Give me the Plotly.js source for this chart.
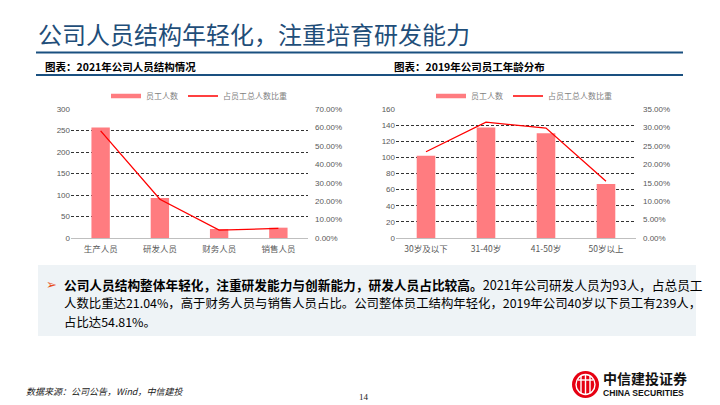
<!DOCTYPE html>
<html>
<head>
<meta charset="utf-8">
<script src="https://cdn.plot.ly/plotly-3.0.1.min.js"></script>
<style>
html,body{margin:0;padding:0;background:#fff;}
#chart{width:720px;height:405px;}
</style>
</head>
<body>
<div id="chart"></div>
<script>
// ---- data ----
const cats1 = ["生产人员", "研发人员", "财务人员", "销售人员"];
const staff1 = [257, 93, 21, 24];
const share1 = [0.5814, 0.2104, 0.0430, 0.0520];

const cats2 = ["30岁及以下", "31-40岁", "41-50岁", "50岁以上"];
const staff2 = [102, 137, 130, 67];
const share2 = [0.2339, 0.3142, 0.2982, 0.1537];

const legendBar = "员工人数";
const legendLine = "占员工总人数比重";

const W = 720, H = 405;
const px = x => x / W;
const py = y => 1 - y / H;

const barColor = "#FF7C80";
const lineColor = "#FF0000";
const tickFont = {family: "Liberation Sans, Arial, sans-serif", size: 8, color: "#595959"};
const cjk = "Noto Sans CJK SC, sans-serif";

function chartTraces(cats, staff, share, xa, ya, ya2, lg) {
  return [
    {type: "bar", x: cats, y: staff, name: legendBar, marker: {color: barColor}, width: 0.31,
     xaxis: xa, yaxis: ya, showlegend: false, hoverinfo: "skip"},
    // legend key drawn as a thick short bar (like the reference legend)
    {type: "scatter", mode: "lines", x: [null], y: [null], name: legendBar,
     line: {color: barColor, width: 4.5}, xaxis: xa, yaxis: ya, legend: lg, hoverinfo: "skip"},
    {type: "scatter", mode: "lines", x: cats, y: share, name: legendLine, line: {color: lineColor, width: 1.3},
     xaxis: xa, yaxis: ya2, legend: lg, hoverinfo: "skip"}
  ];
}

const traces = [].concat(
  chartTraces(cats1, staff1, share1, "x", "y", "y2", "legend"),
  chartTraces(cats2, staff2, share2, "x3", "y3", "y4", "legend2")
);

const yDom = [py(238), py(109)];
const gridStyle = {showgrid: true, gridcolor: "#000000", griddash: "3px,2px", gridwidth: 0.8};
const catFont = {family: cjk, size: 8.5, color: "#595959"};

const layout = {
  width: W, height: H,
  margin: {l: 0, r: 0, t: 0, b: 0},
  paper_bgcolor: "#ffffff", plot_bgcolor: "rgba(0,0,0,0)",
  showlegend: true,
  xaxis: {domain: [px(71), px(308)], anchor: "y", tickfont: catFont,
          showline: true, linecolor: "#BFBFBF", linewidth: 1, ticks: "", ticklabelstandoff: 3},
  yaxis: Object.assign({domain: yDom, anchor: "x", range: [0, 300], tickvals: [0,50,100,150,200,250,300],
          tickfont: tickFont, zeroline: false, ticks: "", showline: false}, gridStyle),
  yaxis2: {domain: yDom, overlaying: "y", side: "right", anchor: "x", range: [0, 0.7],
           tickvals: [0,0.1,0.2,0.3,0.4,0.5,0.6,0.7], tickformat: ".2%", tickfont: tickFont,
           showgrid: false, zeroline: false, ticks: "", ticklabelstandoff: 6},
  xaxis3: {domain: [px(396), px(636)], anchor: "y3", tickfont: catFont,
           showline: true, linecolor: "#BFBFBF", linewidth: 1, ticks: "", ticklabelstandoff: 3},
  yaxis3: Object.assign({domain: yDom, anchor: "x3", range: [0, 160], tickvals: [0,20,40,60,80,100,120,140,160],
           tickfont: tickFont, zeroline: false, ticks: "", showline: false}, gridStyle),
  yaxis4: {domain: yDom, overlaying: "y3", side: "right", anchor: "x3", range: [0, 0.35],
           tickvals: [0,0.05,0.1,0.15,0.2,0.25,0.3,0.35], tickformat: ".2%", tickfont: tickFont,
           showgrid: false, zeroline: false, ticks: "", ticklabelstandoff: 6},
  legend: {orientation: "h", x: px(199), xanchor: "center", y: py(96), yanchor: "middle",
           font: {family: cjk, size: 8, color: "#7F7F7F"}, bgcolor: "rgba(0,0,0,0)", itemwidth: 30},
  legend2: {orientation: "h", x: px(524), xanchor: "center", y: py(96), yanchor: "middle",
           font: {family: cjk, size: 8, color: "#7F7F7F"}, bgcolor: "rgba(0,0,0,0)", itemwidth: 30},
  shapes: [
    {type: "line", xref: "paper", yref: "paper", x0: px(36), x1: px(683), y0: py(52.5), y1: py(52.5),
     line: {color: "#1A5080", width: 2.2}},
    {type: "line", xref: "paper", yref: "paper", x0: px(36), x1: px(683), y0: py(75), y1: py(75),
     line: {color: "#1A5080", width: 2}},
    {type: "rect", xref: "paper", yref: "paper", x0: px(38), x1: px(696), y0: py(265), y1: py(336),
     line: {width: 0}, fillcolor: "#EEF3F6", layer: "below"},
    // logo mark
    {type: "circle", xref: "paper", yref: "paper", x0: px(572), x1: px(599), y0: py(371), y1: py(398),
     line: {width: 0}, fillcolor: "#E60012"},
    {type: "circle", xref: "paper", yref: "paper", x0: px(576), x1: px(595), y0: py(374.5), y1: py(394.5),
     line: {width: 1.4, color: "#ffffff"}, fillcolor: "rgba(0,0,0,0)"},
    {type: "line", xref: "paper", yref: "paper", x0: px(581), x1: px(581), y0: py(376), y1: py(393),
     line: {width: 1.4, color: "#ffffff"}},
    {type: "line", xref: "paper", yref: "paper", x0: px(585.5), x1: px(585.5), y0: py(375), y1: py(394),
     line: {width: 1.4, color: "#ffffff"}},
    {type: "line", xref: "paper", yref: "paper", x0: px(590), x1: px(590), y0: py(376), y1: py(393),
     line: {width: 1.4, color: "#ffffff"}},
    {type: "line", xref: "paper", yref: "paper", x0: px(578), x1: px(593), y0: py(380), y1: py(380),
     line: {width: 1.4, color: "#ffffff"}}
  ],
  annotations: [
    {text: "公司人员结构年轻化，注重培育研发能力", xref: "paper", yref: "paper", x: px(36), y: py(34),
     xanchor: "left", yanchor: "middle", showarrow: false, font: {family: cjk, size: 24, color: "#1F4E79"}},
    {text: "<b>图表：2021年公司人员结构情况</b>", xref: "paper", yref: "paper", x: px(43), y: py(66),
     xanchor: "left", yanchor: "middle", showarrow: false, font: {family: cjk, size: 10.5, color: "#000"}},
    {text: "<b>图表：2019年公司员工年龄分布</b>", xref: "paper", yref: "paper", x: px(392), y: py(66),
     xanchor: "left", yanchor: "middle", showarrow: false, font: {family: cjk, size: 10.5, color: "#000"}},
    {text: "➢", xref: "paper", yref: "paper", x: px(44), y: py(284),
     xanchor: "left", yanchor: "middle", showarrow: false, font: {family: "DejaVu Sans", size: 13, color: "#E8501A"}},
    {text: "<b>公司人员结构整体年轻化，注重研发能力与创新能力，研发人员占比较高。</b>2021年公司研发人员为93人，占总员工", xref: "paper", yref: "paper", x: px(62), y: py(284),
     xanchor: "left", yanchor: "middle", showarrow: false, font: {family: cjk, size: 12.7, color: "#000"}},
    {text: "人数比重达21.04%，高于财务人员与销售人员占比。公司整体员工结构年轻化，2019年公司40岁以下员工有239人，", xref: "paper", yref: "paper", x: px(62), y: py(303),
     xanchor: "left", yanchor: "middle", showarrow: false, font: {family: cjk, size: 12.4, color: "#000"}},
    {text: "占比达54.81%。", xref: "paper", yref: "paper", x: px(62), y: py(322),
     xanchor: "left", yanchor: "middle", showarrow: false, font: {family: cjk, size: 12.4, color: "#000"}},
    {text: "<i>数据来源：公司公告，Wind，中信建投</i>", xref: "paper", yref: "paper", x: px(24), y: py(391),
     xanchor: "left", yanchor: "middle", showarrow: false, font: {family: cjk, size: 9, color: "#222"}},
    {text: "14", xref: "paper", yref: "paper", x: px(364), y: py(397),
     xanchor: "center", yanchor: "middle", showarrow: false, font: {family: "Liberation Serif", size: 9, color: "#222"}},
    {text: "<b>中信建投证券</b>", xref: "paper", yref: "paper", x: px(601), y: py(378),
     xanchor: "left", yanchor: "middle", showarrow: false, font: {family: cjk, size: 14, color: "#111"}},
    {text: "<b>CHINA SECURITIES</b>", xref: "paper", yref: "paper", x: px(601), y: py(393),
     xanchor: "left", yanchor: "middle", showarrow: false, font: {family: "Liberation Sans", size: 8.6, color: "#111"}}
  ]
};

Plotly.newPlot("chart", traces, layout, {displayModeBar: false, staticPlot: true});
</script>
</body>
</html>
